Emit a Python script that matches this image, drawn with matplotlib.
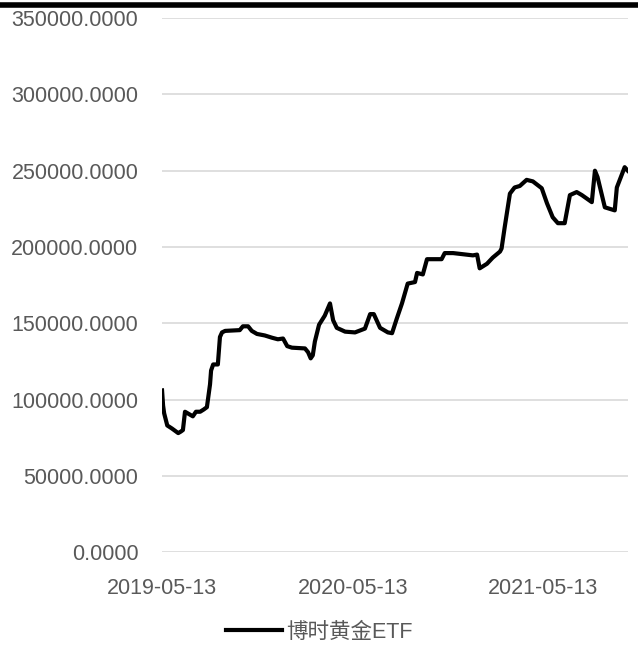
import matplotlib
matplotlib.use("Agg")
import matplotlib.pyplot as plt
import matplotlib.dates as mdates
import matplotlib.lines as mlines
import pandas as pd
from matplotlib.ticker import FuncFormatter

dates = ["2019-05-13", "2019-05-15", "2019-05-17", "2019-05-23", "2019-06-01",
         "2019-06-13", "2019-06-18", "2019-06-22", "2019-06-26", "2019-07-06",
         "2019-07-11", "2019-07-17", "2019-07-25", "2019-08-01", "2019-08-07",
         "2019-08-13", "2019-08-15", "2019-08-19", "2019-08-28", "2019-09-01",
         "2019-09-05", "2019-09-11", "2019-10-09", "2019-10-15", "2019-10-25",
         "2019-11-01", "2019-11-11", "2019-11-26", "2019-12-10", "2019-12-21",
         "2019-12-31", "2020-01-08", "2020-01-17", "2020-02-11", "2020-02-17",
         "2020-02-22", "2020-02-26", "2020-03-01", "2020-03-09", "2020-03-20",
         "2020-03-30", "2020-04-05", "2020-04-12", "2020-04-28", "2020-05-17",
         "2020-06-05", "2020-06-15", "2020-06-22", "2020-07-04", "2020-07-19",
         "2020-07-27", "2020-08-05", "2020-08-15", "2020-08-26", "2020-09-09",
         "2020-09-13", "2020-09-24", "2020-10-02", "2020-10-30", "2020-11-05",
         "2020-11-21", "2020-12-29", "2021-01-06", "2021-01-11", "2021-01-25",
         "2021-02-05", "2021-02-19", "2021-02-22", "2021-02-28", "2021-03-10",
         "2021-03-19", "2021-03-29", "2021-04-11", "2021-04-23", "2021-05-10",
         "2021-05-20", "2021-05-31", "2021-06-10", "2021-06-23", "2021-07-03",
         "2021-07-16", "2021-07-26", "2021-08-14", "2021-08-20", "2021-08-25",
         "2021-09-08", "2021-09-27", "2021-10-01", "2021-10-16", "2021-10-22"]
values = [106000, 96000, 91000, 83000, 81000,
          78000, 79000, 80000, 92000, 90000,
          89000, 92000, 92000, 93500, 95000,
          110000, 119000, 123000, 123000, 141000,
          144000, 145000, 145500, 148000, 148000,
          145000, 143000, 142000, 140500, 139500,
          140000, 135000, 134000, 133500, 131000,
          127000, 129000, 138000, 149000, 155000,
          163000, 152000, 147000, 144500, 144000,
          146500, 156000, 156000, 147000, 144000,
          143500, 153000, 163000, 176000, 177000,
          183000, 182000, 192000, 192000, 196000,
          196000, 194500, 195000, 186000, 189000,
          193000, 197000, 199000, 213000, 235000,
          239000, 240000, 244000, 243000, 238500,
          228700, 219500, 215600, 215600, 234000,
          236000, 234000, 229400, 250000, 245800,
          226000, 224000, 239000, 252300, 250000]
series_name = "博时黄金ETF"
tick_dates = ["2019-05-13", "2020-05-13", "2021-05-13"]

x = pd.to_datetime(dates)

fig = plt.figure(figsize=(6.38, 6.48), dpi=100)
ax = fig.add_axes([0.254, 0.148, 0.730, 0.824])

ax.plot(x, values, color="black", linewidth=3.0, solid_joinstyle="round")

ax.set_ylim(0, 350000)
ax.set_yticks(range(0, 350001, 50000))
ax.yaxis.set_major_formatter(FuncFormatter(lambda v, p: "%.4f" % v))
ax.set_xlim(pd.Timestamp("2019-05-13"), pd.Timestamp("2021-10-22"))
ax.set_xticks(pd.to_datetime(tick_dates))
ax.xaxis.set_major_formatter(mdates.DateFormatter("%Y-%m-%d"))

ax.grid(axis="y", color="#d9d9d9", linewidth=1.2)
ax.set_axisbelow(True)
for s in ax.spines.values():
    s.set_visible(False)
ax.tick_params(length=0, labelsize=15.5, labelcolor="#595959")
ax.tick_params(axis="y", pad=17)
ax.tick_params(axis="x", pad=19)
for lab in ax.get_xticklabels() + ax.get_yticklabels():
    lab.set_family("Liberation Sans")

# black bar along the top edge
fig.add_artist(mlines.Line2D([0, 1], [0.9925, 0.9925], color="black", linewidth=4,
                             transform=fig.transFigure))

handle = mlines.Line2D([], [], color="black", linewidth=3.0)
fig.legend([handle], [series_name], loc="lower center", bbox_to_anchor=(0.5, -0.022),
           frameon=False, handlelength=2.6, handletextpad=0.2,
           prop={"family": ["Liberation Sans", "Noto Sans CJK SC"], "size": 15.5},
           labelcolor="#595959")

fig.savefig("out.png", dpi=100)
